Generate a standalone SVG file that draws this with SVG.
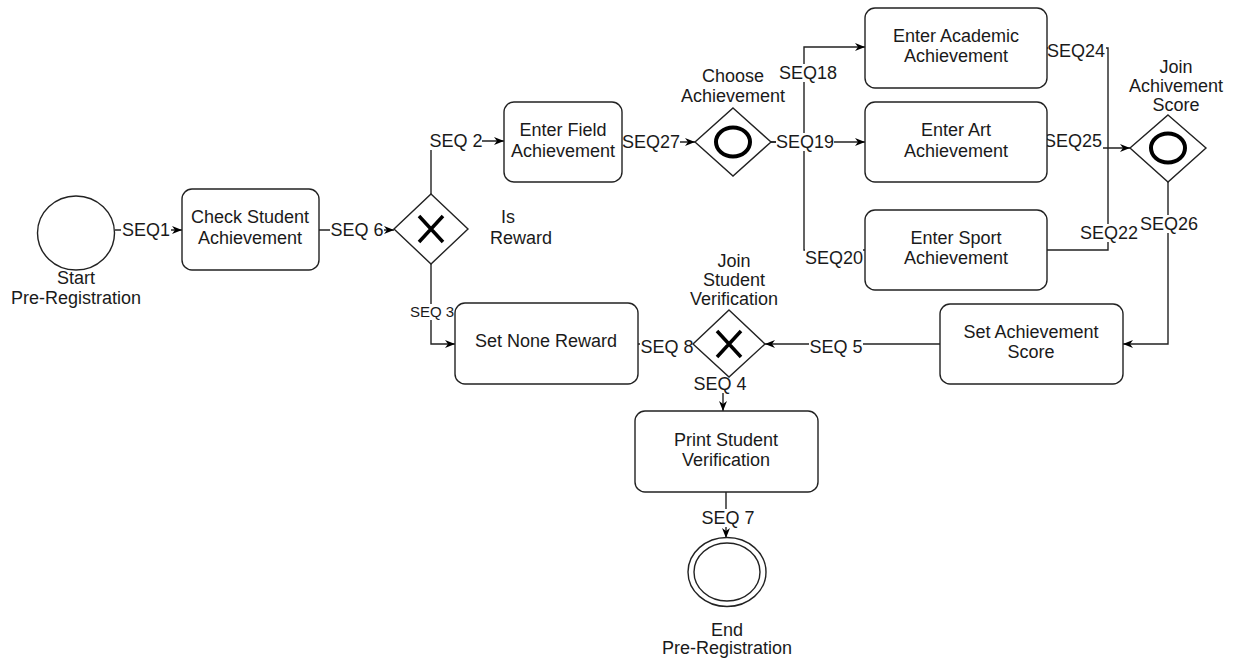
<svg xmlns="http://www.w3.org/2000/svg" width="1234" height="661" viewBox="0 0 1234 661">
<style>
.box{fill:#fff;stroke:#222;stroke-width:1.4}
.ev{fill:#fff;stroke:#222;stroke-width:1.4}
.gw{fill:#fff;stroke:#222;stroke-width:1.4}
.mk{fill:none;stroke:#000;stroke-width:4}
.t{font-family:"Liberation Sans",Arial,sans-serif;font-size:18px;fill:#1a1a1a;text-anchor:middle}
.s{font-size:15px}
.edge{fill:none;stroke:#222;stroke-width:1.4}
.lb{fill:#fff}
</style>
<defs>
<marker id="arr" markerUnits="userSpaceOnUse" markerWidth="12" markerHeight="10" refX="10" refY="4" orient="auto">
<path d="M0,0 L10,4 L0,8 L3,4 z" fill="#000"/>
</marker>
</defs>
<rect width="1234" height="661" fill="#fff"/>

<g id="connectors">
<path class="edge" d="M115,230 H182" marker-end="url(#arr)"/>
<path class="edge" d="M319,230 H394" marker-end="url(#arr)"/>
<path class="edge" d="M431,194 V141 H504" marker-end="url(#arr)"/>
<path class="edge" d="M431,264 V344 H455" marker-end="url(#arr)"/>
<path class="edge" d="M622,142 H695" marker-end="url(#arr)"/>
<path class="edge" d="M771,142 H804 V47 H865" marker-end="url(#arr)"/>
<path class="edge" d="M771,142 H865" marker-end="url(#arr)"/>
<path class="edge" d="M804,142 V250 H865"/>
<path class="edge" d="M1047,48 H1108 V148 H1130" marker-end="url(#arr)"/>
<path class="edge" d="M1047,148 H1108"/>
<path class="edge" d="M1047,250 H1108 V148"/>
<path class="edge" d="M1168,182 V344 H1123" marker-end="url(#arr)"/>
<path class="edge" d="M940,344 H765" marker-end="url(#arr)"/>
<path class="edge" d="M638,344 H693"/>
<path class="edge" d="M723,378 V411" marker-end="url(#arr)"/>
<path class="edge" d="M726,492 V538" marker-end="url(#arr)"/>
</g>

<g id="edge-labels">
<rect class="lb" x="121" y="221" width="50" height="18"/><text class="t" x="146" y="236">SEQ1</text>
<rect class="lb" x="330" y="221" width="54" height="18"/><text class="t" x="357" y="236">SEQ 6</text>
<rect class="lb" x="430" y="132" width="52" height="18"/><text class="t" x="456" y="147">SEQ 2</text>
<rect class="lb" x="410" y="304" width="44" height="16"/><text class="t s" x="432" y="317">SEQ 3</text>
<rect class="lb" x="622" y="133" width="58" height="18"/><text class="t" x="651" y="148">SEQ27</text>
<rect class="lb" x="779" y="64" width="58" height="18"/><text class="t" x="808" y="79">SEQ18</text>
<rect class="lb" x="776" y="133" width="58" height="18"/><text class="t" x="805" y="148">SEQ19</text>
<rect class="lb" x="805" y="247" width="58" height="20"/><text class="t" x="834" y="264">SEQ20</text>
<rect class="lb" x="1048" y="42" width="58" height="18"/><text class="t" x="1076" y="57">SEQ24</text>
<rect class="lb" x="1045" y="132" width="58" height="18"/><text class="t" x="1073" y="147">SEQ25</text>
<rect class="lb" x="1080" y="224" width="58" height="18"/><text class="t" x="1109" y="239">SEQ22</text>
<rect class="lb" x="1140" y="215" width="58" height="18"/><text class="t" x="1169" y="230">SEQ26</text>
<rect class="lb" x="809" y="338" width="54" height="18"/><text class="t" x="836" y="353">SEQ 5</text>
<rect class="lb" x="640" y="338" width="54" height="18"/><text class="t" x="667" y="353">SEQ 8</text>
<rect class="lb" x="693" y="375" width="54" height="18"/><text class="t" x="720" y="390">SEQ 4</text>
<rect class="lb" x="701" y="509" width="54" height="18"/><text class="t" x="728" y="524">SEQ 7</text>
</g>

<g id="start">
<ellipse class="ev" cx="76" cy="233" rx="38.5" ry="37"/>
<text class="t" x="76" y="284">Start</text>
<text class="t" x="76" y="304">Pre-Registration</text>
</g>

<g id="check-student">
<rect class="box" x="182" y="189" width="137" height="81" rx="10"/>
<text class="t" x="250" y="223">Check Student</text>
<text class="t" x="250" y="244">Achievement</text>
</g>

<g id="is-reward">
<polygon class="gw" points="431,194 468,229 431,264 394,229"/>
<path class="mk" style="stroke-width:3.5" d="M419,216 L443,242 M443,216 L419,242"/>
<text class="t" x="508" y="223">Is</text>
<text class="t" x="521" y="244">Reward</text>
</g>

<g id="enter-field">
<rect class="box" x="504" y="102" width="118" height="80" rx="10"/>
<text class="t" x="563" y="136">Enter Field</text>
<text class="t" x="563" y="157">Achievement</text>
</g>

<g id="choose-achievement">
<polygon class="gw" points="733,108 771,142 733,176 695,142"/>
<ellipse class="mk" cx="733" cy="142" rx="17" ry="14.5"/>
<text class="t" x="733" y="82">Choose</text>
<text class="t" x="733" y="102">Achievement</text>
</g>

<g id="enter-academic">
<rect class="box" x="865" y="8" width="182" height="80" rx="10"/>
<text class="t" x="956" y="42">Enter Academic</text>
<text class="t" x="956" y="62">Achievement</text>
</g>

<g id="enter-art">
<rect class="box" x="865" y="102" width="182" height="80" rx="10"/>
<text class="t" x="956" y="136">Enter Art</text>
<text class="t" x="956" y="157">Achievement</text>
</g>

<g id="enter-sport">
<rect class="box" x="865" y="210" width="182" height="80" rx="10"/>
<text class="t" x="956" y="244">Enter Sport</text>
<text class="t" x="956" y="264">Achievement</text>
</g>

<g id="join-achievement">
<polygon class="gw" points="1168,115 1206,148 1168,182 1130,148"/>
<ellipse class="mk" cx="1168" cy="148" rx="17" ry="14.5"/>
<text class="t" x="1176" y="73">Join</text>
<text class="t" x="1176" y="92">Achivement</text>
<text class="t" x="1176" y="111">Score</text>
</g>

<g id="set-achievement-score">
<rect class="box" x="940" y="304" width="183" height="80" rx="10"/>
<text class="t" x="1031" y="338">Set Achievement</text>
<text class="t" x="1031" y="358">Score</text>
</g>

<g id="join-student">
<polygon class="gw" points="729,310 765,344 729,377 693,344"/>
<path class="mk" style="stroke-width:3.5" d="M717,331 L741,357 M741,331 L717,357"/>
<text class="t" x="734" y="267">Join</text>
<text class="t" x="734" y="286">Student</text>
<text class="t" x="734" y="305">Verification</text>
</g>

<g id="set-none-reward">
<rect class="box" x="455" y="303" width="183" height="81" rx="10"/>
<text class="t" x="546" y="347">Set None Reward</text>
</g>

<g id="print-student">
<rect class="box" x="635" y="411" width="183" height="81" rx="10"/>
<text class="t" x="726" y="446">Print Student</text>
<text class="t" x="726" y="466">Verification</text>
</g>

<g id="end">
<ellipse class="ev" cx="727" cy="572" rx="39" ry="34.5"/>
<ellipse class="ev" cx="727" cy="572" rx="33" ry="29"/>
<text class="t" x="727" y="636">End</text>
<text class="t" x="727" y="654">Pre-Registration</text>
</g>
</svg>
